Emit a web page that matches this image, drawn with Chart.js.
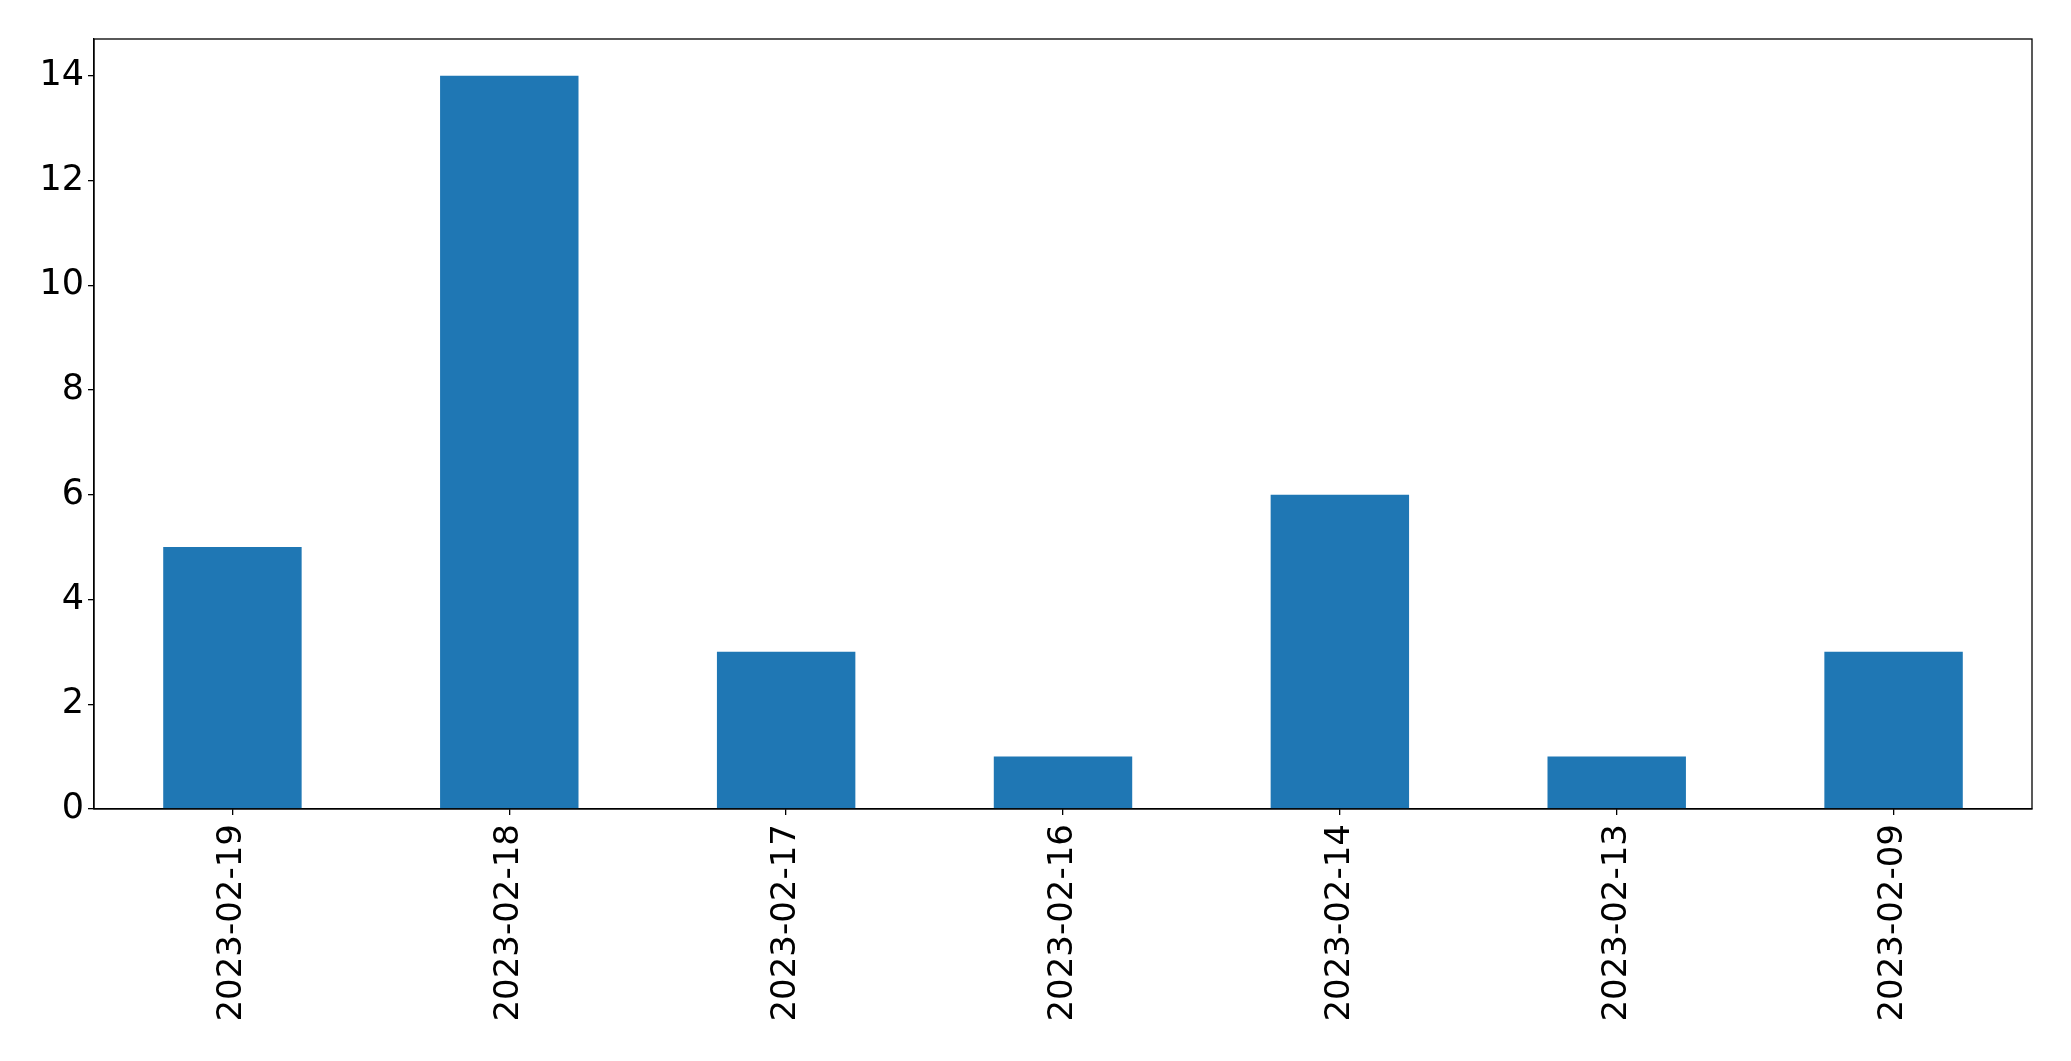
<!DOCTYPE html>
<html>
<head>
<meta charset="utf-8">
<script src="https://cdn.jsdelivr.net/npm/chart.js@4"></script>
<style>
  html, body { margin: 0; padding: 0; background: #fff; }
  #wrap { width: 2071px; height: 1061px; position: relative; }
</style>
</head>
<body>
<div id="wrap"><canvas id="chart"></canvas></div>
<script>
// Data
const dates = ['2023-02-19', '2023-02-18', '2023-02-17', '2023-02-16', '2023-02-14', '2023-02-13', '2023-02-09'];
const counts = [5, 14, 3, 1, 6, 1, 3];
const yTicks = [0, 2, 4, 6, 8, 10, 12, 14];

const FONT = "'DejaVu Sans', sans-serif";

// draw the full frame round the plot area (top + right edges)
const frame = {
  id: 'frame',
  afterDraw(chart) {
    const { ctx, chartArea: a } = chart;
    ctx.save();
    ctx.strokeStyle = '#000';
    ctx.lineWidth = 1.3;
    ctx.strokeRect(a.left, a.top, a.right - a.left, a.bottom - a.top);
    ctx.restore();
  }
};

new Chart(document.getElementById('chart'), {
  type: 'bar',
  data: {
    labels: dates,
    datasets: [{
      data: counts,
      backgroundColor: '#1f77b4',
      borderWidth: 0,
      categoryPercentage: 1.0,
      barPercentage: 0.5
    }]
  },
  options: {
    responsive: true,
    maintainAspectRatio: false,
    animation: false,
    layout: { padding: { top: 39, right: 39, left: 0, bottom: 0 } },
    plugins: {
      legend: { display: false },
      tooltip: { enabled: false }
    },
    scales: {
      x: {
        grid: { display: true, offset: false, drawOnChartArea: false, tickLength: 6, color: '#000', lineWidth: 1.3 },
        border: { display: true, color: '#000', width: 1.3 },
        ticks: {
          color: '#000',
          font: { family: FONT, size: 34 },
          minRotation: 90,
          maxRotation: 90,
          padding: 9,
          autoSkip: false
        },
        afterFit: (scale) => { scale.height = 252; }
      },
      y: {
        min: 0,
        max: 14.7,
        afterBuildTicks: (scale) => { scale.ticks = yTicks.map(v => ({ value: v })); },
        grid: { display: true, drawOnChartArea: false, tickLength: 6, color: '#000', lineWidth: 1.3 },
        border: { display: true, color: '#000', width: 1.3 },
        ticks: {
          color: '#000',
          font: { family: FONT, size: 35 },
          padding: 4
        },
        afterFit: (scale) => { scale.width = 94; }
      }
    }
  },
  plugins: [frame]
});
</script>
</body>
</html>
